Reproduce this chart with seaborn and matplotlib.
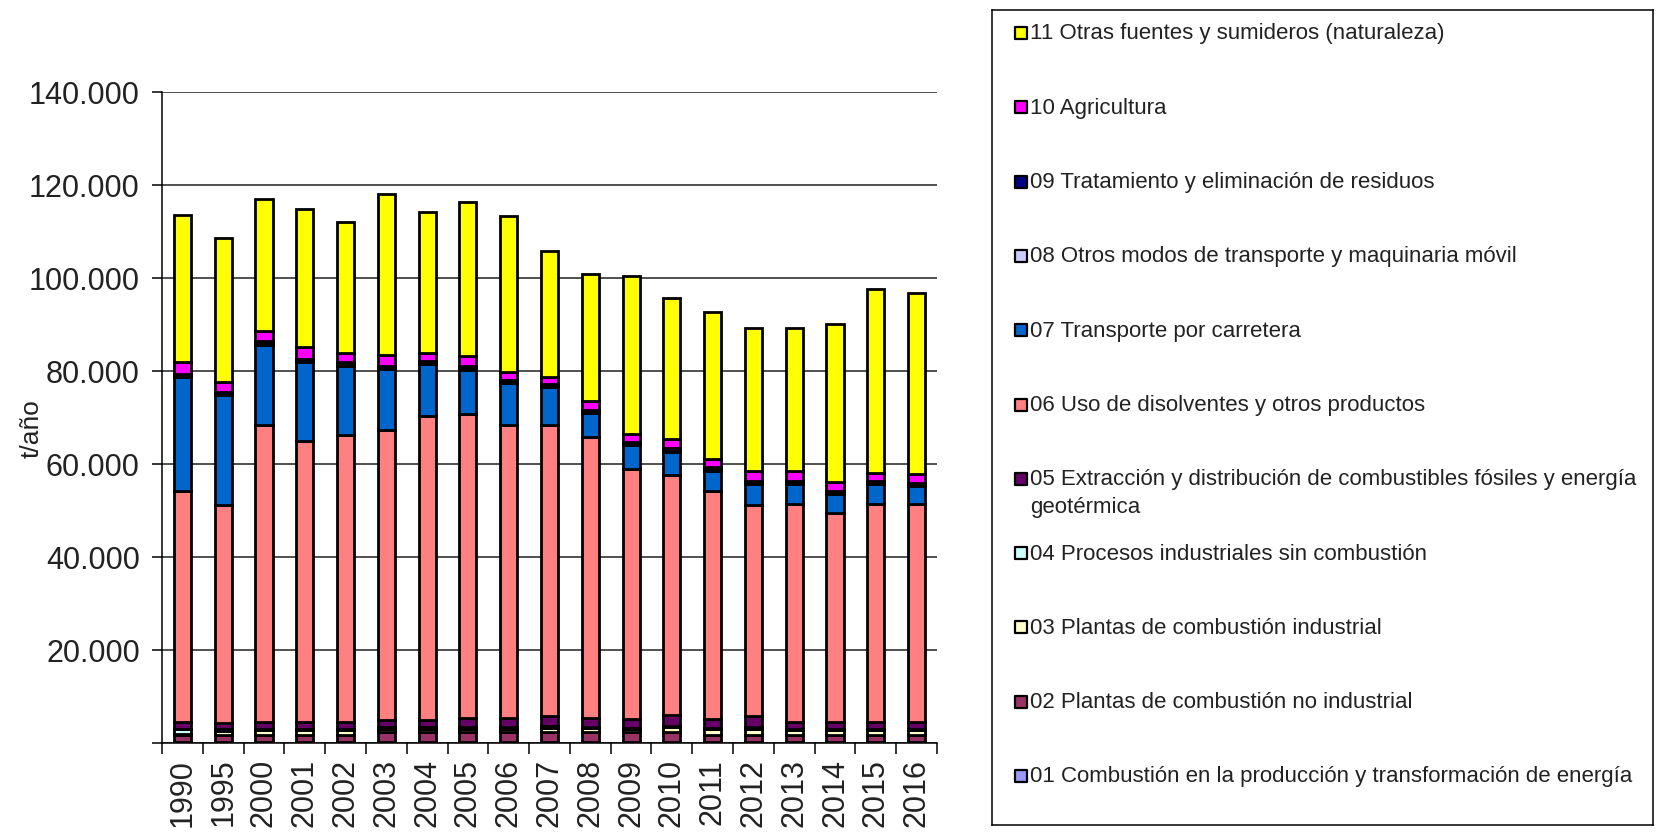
import matplotlib
import numpy as np
import matplotlib.pyplot as plt
import seaborn as sns
from matplotlib.ticker import FuncFormatter, FixedLocator

matplotlib.use('Agg')

years = ['1990', '1995', '2000', '2001', '2002', '2003', '2004', '2005', '2006', '2007',
         '2008', '2009', '2010', '2011', '2012', '2013', '2014', '2015', '2016']

# emisiones por sector, miles de t/año
s01 = [0.2] * 19
s02 = [1.5, 1.5, 1.5, 1.5, 1.5, 2.0, 2.0, 2.0, 2.0, 2.0,
       2.0, 2.0, 2.0, 1.5, 1.5, 1.5, 1.5, 1.5, 1.5]
s03 = [0.2, 0.8, 1.0, 1.0, 1.0, 0.8, 0.8, 0.8, 0.8, 1.0,
       0.9, 0.6, 1.1, 1.1, 1.3, 0.9, 0.9, 0.9, 0.9]
s04 = [1.1, 0.3, 0.3, 0.3, 0.3, 0.3, 0.3, 0.3, 0.3, 0.3,
       0.3, 0.3, 0.3, 0.3, 0.3, 0.3, 0.3, 0.3, 0.3]
s05 = [1.5, 1.5, 1.5, 1.5, 1.5, 1.5, 1.5, 1.9, 1.9, 2.3,
       1.9, 1.9, 2.3, 1.9, 2.3, 1.5, 1.5, 1.5, 1.5]
s06 = [49.7, 46.8, 63.9, 60.4, 61.7, 62.5, 65.5, 65.5, 63.0, 62.4,
       60.4, 53.9, 51.7, 49.0, 45.4, 46.9, 44.9, 46.9, 46.9]
s07 = [24.4, 23.7, 17.2, 17.0, 14.9, 13.1, 11.1, 9.5, 9.1, 8.2,
       5.2, 5.0, 5.0, 4.5, 4.6, 4.3, 4.2, 4.3, 3.8]
s08 = [0.35] * 19
s09 = [0.35] * 19
s10 = [2.5, 2.0, 2.2, 2.4, 1.9, 2.3, 1.6, 2.2, 1.7, 1.5,
       1.8, 1.8, 1.9, 1.8, 2.2, 2.2, 1.8, 1.7, 2.0]
s11 = [31.7, 31.0, 28.4, 29.8, 28.2, 34.6, 30.5, 33.1, 33.6, 27.2,
       27.4, 34.0, 30.4, 31.6, 30.6, 30.6, 34.0, 39.6, 38.9]

sectors = [
    '01 Combustión en la producción y transformación de energía',
    '02 Plantas de combustión no industrial',
    '03 Plantas de combustión industrial',
    '04 Procesos industriales sin combustión',
    '05 Extracción y distribución de combustibles fósiles y energía\ngeotérmica',
    '06 Uso de disolventes y otros productos',
    '07 Transporte por carretera',
    '08 Otros modos de transporte y maquinaria móvil',
    '09 Tratamiento y eliminación de residuos',
    '10 Agricultura',
    '11 Otras fuentes y sumideros (naturaleza)',
]
colors = ['#9999FF', '#993366', '#FFFFCC', '#CCFFFF', '#660066', '#FF8080',
          '#0066CC', '#CCCCFF', '#000080', '#FF00FF', '#FFFF00']
series = [s01, s02, s03, s04, s05, s06, s07, s08, s09, s10, s11]

sns.set_style('white')
plt.rcParams['font.family'] = ['Liberation Sans', 'DejaVu Sans']

fig = plt.figure(figsize=(16.72, 8.37), dpi=100)
ax = fig.add_axes([0.0969, 0.1117, 0.4635, 0.7775])

bottom = np.zeros(len(years))
for vals, col in zip(series, colors):
    vals = np.array(vals) * 1000
    sns.barplot(x=years, y=vals, bottom=bottom, color=col, saturation=1,
                width=0.42, edgecolor='black', linewidth=2.0, errorbar=None, ax=ax)
    bottom = bottom + vals

ax.set_xlim(-0.5, len(years) - 0.5)
ax.set_ylim(0, 140000)
ax.set_yticks(np.arange(0, 140001, 20000))
ax.yaxis.set_major_formatter(FuncFormatter(
    lambda v, p: '' if v == 0 else f'{int(v):,}'.replace(',', '.')))
ax.set_axisbelow(True)
ax.yaxis.grid(True, color='#202020', linewidth=1.1)
ax.xaxis.grid(False)

for s in ['top', 'right']:
    ax.spines[s].set_visible(False)
for s in ['left', 'bottom']:
    ax.spines[s].set_color('black')
    ax.spines[s].set_linewidth(1.1)

ax.tick_params(axis='y', which='major', left=True, length=7, width=1.1,
               color='black', labelsize=22, pad=9, labelcolor='#222222')
ax.tick_params(axis='x', which='major', length=0, labelsize=22, pad=11,
               labelrotation=90, labelcolor='#222222')
ax.xaxis.set_minor_locator(FixedLocator(np.arange(-0.5, len(years), 1.0)))
ax.tick_params(axis='x', which='minor', bottom=True, length=8, width=1.1, color='black')
ax.set_xlabel('')
ax.set_ylabel('')
fig.text(32 / 1672, 1 - 429 / 837, 't/año', rotation=90, ha='center', va='center',
         fontsize=19, color='#222222')

# leyenda en caja aparte
lax = fig.add_axes([992 / 1672, 11 / 837, 661 / 1672, 815 / 837])
lax.set_xlim(0, 661)
lax.set_ylim(815, 0)
lax.set_xticks([])
lax.set_yticks([])
for s in lax.spines.values():
    s.set_color('black')
    s.set_linewidth(1.1)

for i, (lab, col) in enumerate(zip(sectors[::-1], colors[::-1])):
    y = 23 + 74.3 * i
    lax.scatter([29], [y], marker='s', s=64, color=col, edgecolor='black', linewidth=1.6)
    for k, line in enumerate(lab.split('\n')):
        lax.text(38, y + 28 * k, line, fontsize=16, va='center', ha='left', color='#222222')

fig.savefig('out.png', dpi=100)
